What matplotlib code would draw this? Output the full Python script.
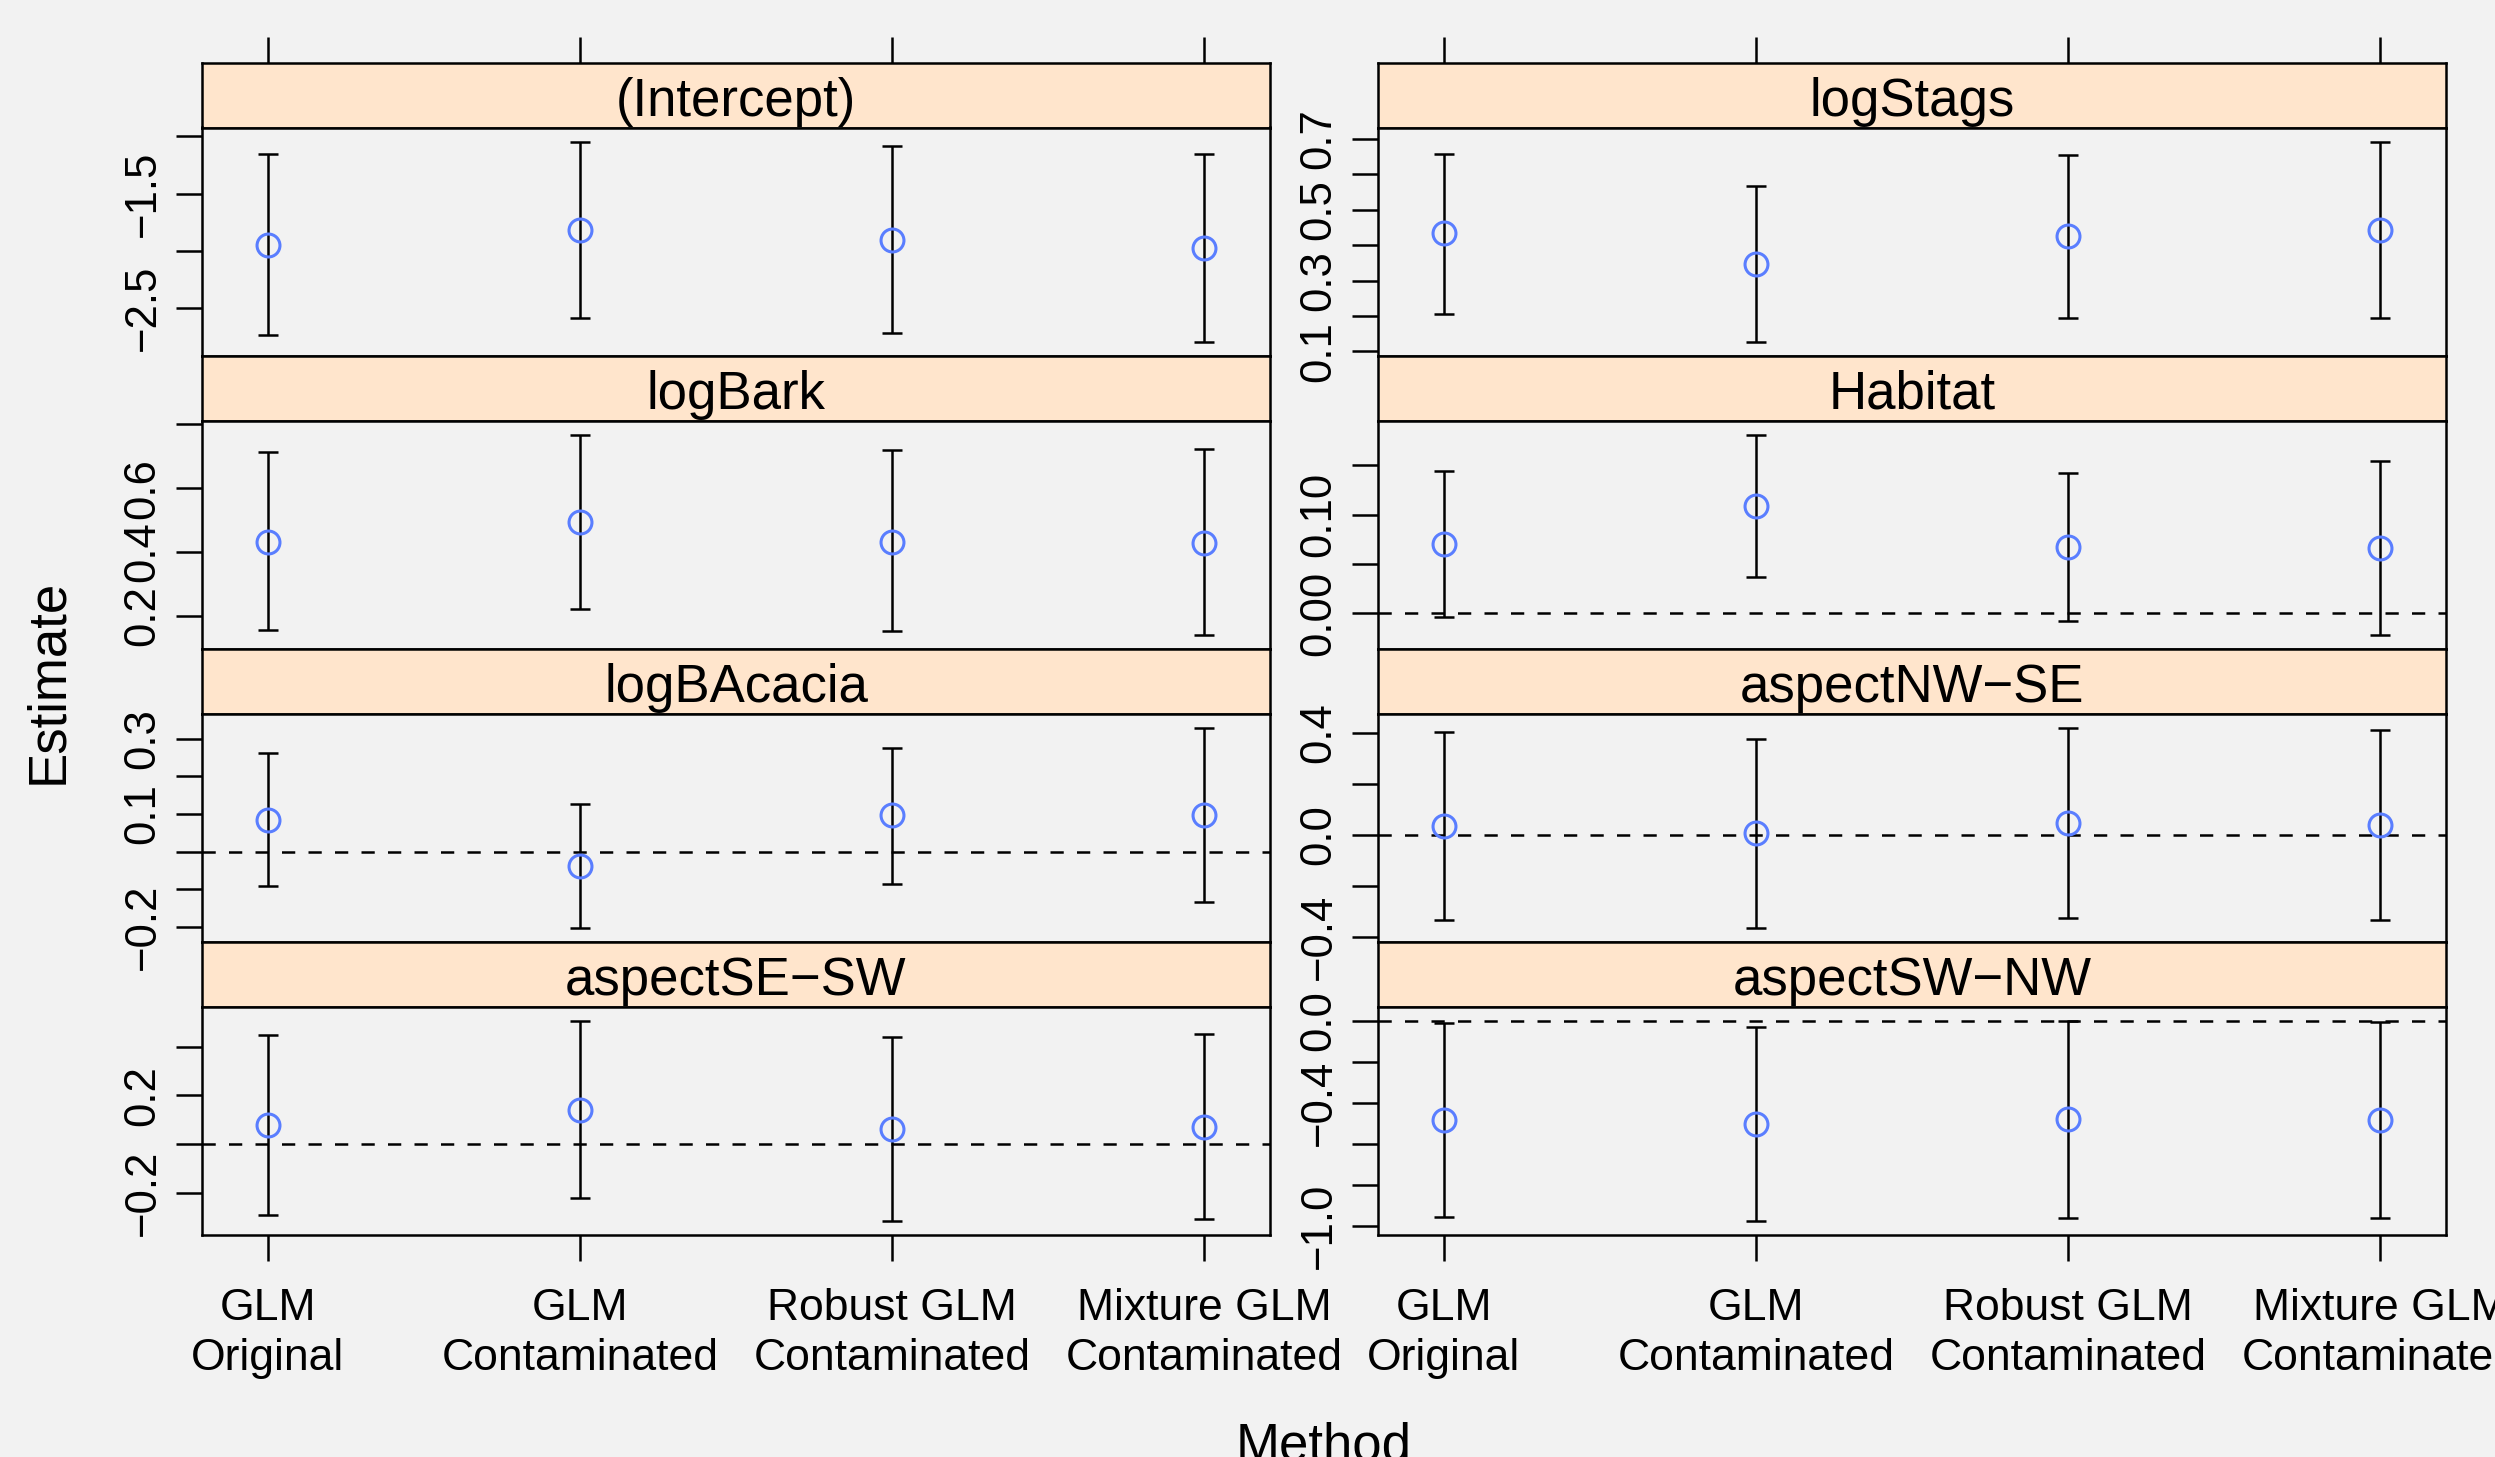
import numpy as np
import matplotlib
matplotlib.use("Agg")
import matplotlib.pyplot as plt

plt.rcParams["font.family"] = ["Liberation Sans", "DejaVu Sans"]

# Coefficient estimates with confidence limits, one panel per term
methods = ["GLM\nOriginal", "GLM\nContaminated", "Robust GLM\nContaminated", "Mixture GLM\nContaminated"]

left_terms = ["(Intercept)", "logBark", "logBAcacia", "aspectSE\u2212SW"]
right_terms = ["logStags", "Habitat", "aspectNW\u2212SE", "aspectSW\u2212NW"]

est_intercept = [-1.946, -1.820, -1.903, -1.975]
lo_intercept = [-2.737, -2.586, -2.712, -2.795]
hi_intercept = [-1.155, -1.047, -1.086, -1.155]

est_logbark = [0.432, 0.494, 0.432, 0.428]
lo_logbark = [0.155, 0.222, 0.151, 0.139]
hi_logbark = [0.713, 0.768, 0.719, 0.722]

est_logbacacia = [0.085, -0.039, 0.096, 0.098]
lo_logbacacia = [-0.092, -0.204, -0.087, -0.133]
hi_logbacacia = [0.263, 0.127, 0.276, 0.329]

est_se_sw = [0.078, 0.141, 0.063, 0.072]
lo_se_sw = [-0.289, -0.222, -0.316, -0.308]
hi_se_sw = [0.447, 0.506, 0.438, 0.453]

est_logstags = [0.433, 0.346, 0.425, 0.442]
lo_logstags = [0.206, 0.126, 0.193, 0.193]
hi_logstags = [0.659, 0.567, 0.655, 0.693]

est_habitat = [0.070, 0.109, 0.067, 0.066]
lo_habitat = [-0.004, 0.037, -0.008, -0.022]
hi_habitat = [0.144, 0.181, 0.142, 0.154]

est_nw_se = [0.036, 0.006, 0.047, 0.039]
lo_nw_se = [-0.333, -0.366, -0.327, -0.335]
hi_nw_se = [0.405, 0.374, 0.420, 0.413]

est_sw_nw = [-0.483, -0.502, -0.480, -0.483]
lo_sw_nw = [-0.954, -0.976, -0.961, -0.961]
hi_sw_nw = [-0.009, -0.032, 0.000, -0.004]

# y ticks and the labels lattice kept after overlap checking
ticks_intercept = [-2.5, -2.0, -1.5, -1.0]
labels_intercept = ["\u22122.5", "", "\u22121.5", ""]
ticks_logbark = [0.2, 0.4, 0.6, 0.8]
labels_logbark = ["0.2", "0.4", "0.6", ""]
ticks_logbacacia = [-0.2, -0.1, 0.0, 0.1, 0.2, 0.3]
labels_logbacacia = ["\u22120.2", "", "", "0.1", "", "0.3"]
ticks_se_sw = [-0.2, 0.0, 0.2, 0.4]
labels_se_sw = ["\u22120.2", "", "0.2", ""]
ticks_logstags = [0.1, 0.2, 0.3, 0.4, 0.5, 0.6, 0.7]
labels_logstags = ["0.1", "", "0.3", "", "0.5", "", "0.7"]
ticks_habitat = [0.0, 0.05, 0.10, 0.15]
labels_habitat = ["0.00", "", "0.10", ""]
ticks_nw_se = [-0.4, -0.2, 0.0, 0.2, 0.4]
labels_nw_se = ["\u22120.4", "", "0.0", "", "0.4"]
ticks_sw_nw = [-1.0, -0.8, -0.6, -0.4, -0.2, 0.0]
labels_sw_nw = ["\u22121.0", "", "", "\u22120.4", "", "0.0"]

panels = [
    [
        (est_intercept, lo_intercept, hi_intercept, ticks_intercept, labels_intercept),
        (est_logbark, lo_logbark, hi_logbark, ticks_logbark, labels_logbark),
        (est_logbacacia, lo_logbacacia, hi_logbacacia, ticks_logbacacia, labels_logbacacia),
        (est_se_sw, lo_se_sw, hi_se_sw, ticks_se_sw, labels_se_sw),
    ],
    [
        (est_logstags, lo_logstags, hi_logstags, ticks_logstags, labels_logstags),
        (est_habitat, lo_habitat, hi_habitat, ticks_habitat, labels_habitat),
        (est_nw_se, lo_nw_se, hi_nw_se, ticks_nw_se, labels_nw_se),
        (est_sw_nw, lo_sw_nw, hi_sw_nw, ticks_sw_nw, labels_sw_nw),
    ],
]
terms = [left_terms, right_terms]

# Style
BG = "#F2F2F2"
STRIP = "#FFE5CC"
BLUE = "#5A7EFF"
LW = 1.8
TICK_LEN = 18.7

W, H = 2495, 1457
fig = plt.figure(figsize=(W / 100, H / 100), dpi=100, facecolor=BG)


def box(x0, top, w, h):
    return [x0 / W, 1 - (top + h) / H, w / W, h / H]


col_x = [202, 1378]
col_w = 1068
row_h = 293.1
strip_h = 64.5
xpos = np.arange(1, len(methods) + 1)
xlim = (0.789, 4.211)

for c in range(2):
    for r in range(4):
        est, lo, hi, yt, yl = panels[c][r]
        est, lo, hi = np.array(est), np.array(lo), np.array(hi)
        top = 63 + r * row_h

        sax = fig.add_axes(box(col_x[c], top, col_w, strip_h))
        sax.set_facecolor(STRIP)
        sax.set_xlim(xlim)
        sax.set_yticks([])
        for sp in sax.spines.values():
            sp.set_linewidth(LW)
        if r == 0:
            sax.set_xticks(xpos)
            sax.tick_params(axis="x", top=True, bottom=False, labeltop=False,
                            labelbottom=False, direction="out",
                            length=TICK_LEN, width=LW)
        else:
            sax.set_xticks([])
        sax.text(0.5, 0.40, terms[c][r], transform=sax.transAxes,
                 ha="center", va="center", fontsize=38)

        ax = fig.add_axes(box(col_x[c], top + strip_h, col_w, row_h - strip_h))
        ax.set_facecolor(BG)
        for sp in ax.spines.values():
            sp.set_linewidth(LW)

        # lattice pads the data range by 7%
        rng = hi.max() - lo.min()
        ylim = (lo.min() - 0.07 * rng, hi.max() + 0.07 * rng)

        if ylim[0] < 0 < ylim[1]:
            ax.axhline(0, color="black", lw=LW, ls=(0, (5.3, 5.3)), zorder=1)

        ax.errorbar(xpos, est, yerr=[est - lo, hi - est], fmt="none",
                    ecolor="black", elinewidth=LW, capsize=7, capthick=LW,
                    zorder=2)
        ax.plot(xpos, est, "o", mfc="none", mec=BLUE, ms=16.5, mew=2.2, zorder=3)

        ax.set_xlim(xlim)
        ax.set_ylim(ylim)
        ax.set_yticks(yt)
        ax.set_yticklabels(yl, rotation=90, va="center")
        ax.tick_params(axis="y", direction="out", length=TICK_LEN, width=LW,
                       labelsize=31.5, pad=9)
        if r == 3:
            ax.set_xticks(xpos)
            ax.set_xticklabels(methods, linespacing=1.3)
            ax.tick_params(axis="x", direction="out", length=TICK_LEN,
                           width=LW, labelsize=32, pad=19)
        else:
            ax.set_xticks([])

fig.text(48 / W, 1 - 681 / H, "Estimate", rotation=90, ha="center",
         va="center", fontsize=38)
fig.text(1324 / W, 1 - 1460.6 / H, "Method", ha="center", va="baseline",
         fontsize=38)

fig.savefig("out.png", dpi=100, facecolor=BG)
